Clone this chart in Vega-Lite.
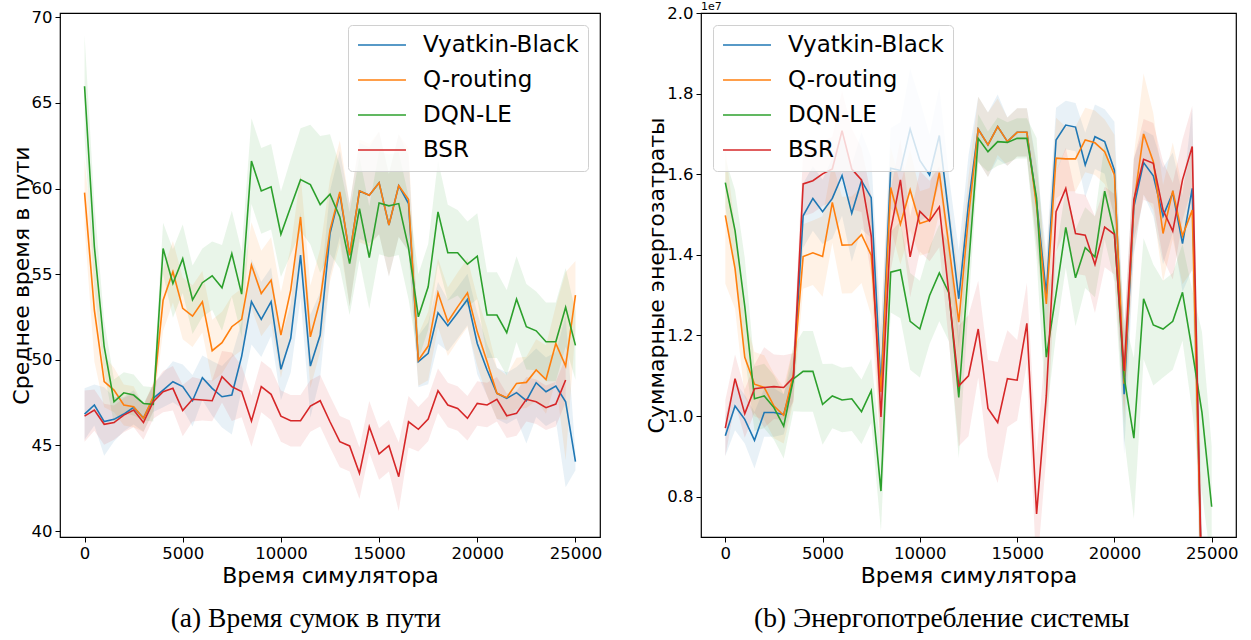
{
  "$schema": "https://vega.github.io/schema/vega-lite/v6.json",
  "padding": {"left": 9, "top": 0, "right": 5, "bottom": 0},
  "background": "white",
  "config": {
    "font": "DejaVu Sans",
    "view": {"stroke": "black", "strokeWidth": 1.2},
    "axis": {
      "labelFont": "DejaVu Sans", "labelFontSize": 16.5, "labelColor": "black",
      "titleFont": "DejaVu Sans", "titleFontSize": 22, "titleFontWeight": "normal", "titleColor": "black",
      "tickColor": "black", "tickSize": 5, "tickWidth": 1, "domain": false, "grid": false, "labelPadding": 3
    },
    "axisY": {"titlePadding": -2},
    "axisX": {"titlePadding": 4},
    "legend": {
      "labelFont": "DejaVu Sans", "labelFontSize": 23, "labelColor": "black",
      "symbolType": "stroke", "symbolStrokeWidth": 1.6, "symbolSize": 2300, "symbolOpacity": 1,
      "fillColor": "rgba(255,255,255,0.8)", "strokeColor": "#d0d0d0", "cornerRadius": 4,
      "padding": 9, "rowPadding": 12, "clipHeight": 22, "labelOffset": 16, "offset": 12
    },
    "title": {"font": "Liberation Serif", "fontSize": 27.5, "fontWeight": "normal", "color": "black"}
  },
  "datasets": {
    "time": [
      {"t":0,"method":"Vyatkin-Black","v":46.83,"e":1.5},{"t":0,"method":"Q-routing","v":59.76,"e":2.0},{"t":0,"method":"DQN-LE","v":65.97,"e":3.0},{"t":0,"method":"BSR","v":46.71,"e":1.5},
      {"t":500,"method":"Vyatkin-Black","v":47.36,"e":1.2},{"t":500,"method":"Q-routing","v":52.9,"e":3.0},{"t":500,"method":"DQN-LE","v":56.6,"e":2.5},{"t":500,"method":"BSR","v":47.06,"e":1.2},
      {"t":1000,"method":"Vyatkin-Black","v":46.39,"e":2.0},{"t":1000,"method":"Q-routing","v":48.72,"e":1.5},{"t":1000,"method":"DQN-LE","v":50.76,"e":1.5},{"t":1000,"method":"BSR","v":46.23,"e":1.2},
      {"t":1500,"method":"Vyatkin-Black","v":46.52,"e":1.3},{"t":1500,"method":"Q-routing","v":48.23,"e":1.3},{"t":1500,"method":"DQN-LE","v":47.55,"e":1.3},{"t":1500,"method":"BSR","v":46.33,"e":1.0},
      {"t":2000,"method":"Vyatkin-Black","v":46.83,"e":1.0},{"t":2000,"method":"Q-routing","v":47.36,"e":1.2},{"t":2000,"method":"DQN-LE","v":48.07,"e":1.2},{"t":2000,"method":"BSR","v":46.77,"e":1.0},
      {"t":2500,"method":"Vyatkin-Black","v":47.22,"e":1.0},{"t":2500,"method":"Q-routing","v":47.26,"e":1.2},{"t":2500,"method":"DQN-LE","v":47.94,"e":1.2},{"t":2500,"method":"BSR","v":47.06,"e":1.0},
      {"t":3000,"method":"Vyatkin-Black","v":46.6,"e":0.8},{"t":3000,"method":"Q-routing","v":46.58,"e":0.8},{"t":3000,"method":"DQN-LE","v":47.45,"e":1.0},{"t":3000,"method":"BSR","v":46.33,"e":1.0},
      {"t":3500,"method":"Vyatkin-Black","v":47.75,"e":0.8},{"t":3500,"method":"Q-routing","v":47.84,"e":0.8},{"t":3500,"method":"DQN-LE","v":47.4,"e":1.0},{"t":3500,"method":"BSR","v":47.55,"e":1.0},
      {"t":4000,"method":"Vyatkin-Black","v":48.23,"e":1.0},{"t":4000,"method":"Q-routing","v":53.48,"e":1.8},{"t":4000,"method":"DQN-LE","v":56.5,"e":1.5},{"t":4000,"method":"BSR","v":48.14,"e":1.2},
      {"t":4500,"method":"Vyatkin-Black","v":48.72,"e":1.2},{"t":4500,"method":"Q-routing","v":55.14,"e":1.8},{"t":4500,"method":"DQN-LE","v":54.45,"e":2.0},{"t":4500,"method":"BSR","v":48.33,"e":1.3},
      {"t":5000,"method":"Vyatkin-Black","v":48.43,"e":1.3},{"t":5000,"method":"Q-routing","v":53.0,"e":1.8},{"t":5000,"method":"DQN-LE","v":55.9,"e":2.0},{"t":5000,"method":"BSR","v":47.03,"e":1.5},
      {"t":5500,"method":"Vyatkin-Black","v":47.61,"e":1.5},{"t":5500,"method":"Q-routing","v":52.55,"e":1.8},{"t":5500,"method":"DQN-LE","v":53.5,"e":2.0},{"t":5500,"method":"BSR","v":47.69,"e":1.3},
      {"t":6000,"method":"Vyatkin-Black","v":48.95,"e":1.3},{"t":6000,"method":"Q-routing","v":53.39,"e":1.8},{"t":6000,"method":"DQN-LE","v":54.5,"e":2.0},{"t":6000,"method":"BSR","v":47.65,"e":1.2},
      {"t":6500,"method":"Vyatkin-Black","v":48.33,"e":1.6},{"t":6500,"method":"Q-routing","v":50.53,"e":1.8},{"t":6500,"method":"DQN-LE","v":54.9,"e":2.0},{"t":6500,"method":"BSR","v":47.61,"e":1.2},
      {"t":7000,"method":"Vyatkin-Black","v":47.84,"e":1.8},{"t":7000,"method":"Q-routing","v":51.0,"e":1.8},{"t":7000,"method":"DQN-LE","v":54.2,"e":2.5},{"t":7000,"method":"BSR","v":49.01,"e":1.5},
      {"t":7500,"method":"Vyatkin-Black","v":47.94,"e":2.3},{"t":7500,"method":"Q-routing","v":51.93,"e":1.8},{"t":7500,"method":"DQN-LE","v":56.2,"e":2.5},{"t":7500,"method":"BSR","v":48.43,"e":2.0},
      {"t":8000,"method":"Vyatkin-Black","v":50.2,"e":2.0},{"t":8000,"method":"Q-routing","v":52.36,"e":1.8},{"t":8000,"method":"DQN-LE","v":53.83,"e":2.5},{"t":8000,"method":"BSR","v":48.14,"e":1.5},
      {"t":8500,"method":"Vyatkin-Black","v":53.39,"e":2.5},{"t":8500,"method":"Q-routing","v":55.53,"e":2.5},{"t":8500,"method":"DQN-LE","v":61.6,"e":2.5},{"t":8500,"method":"BSR","v":46.42,"e":1.5},
      {"t":9000,"method":"Vyatkin-Black","v":52.36,"e":2.2},{"t":9000,"method":"Q-routing","v":53.87,"e":2.5},{"t":9000,"method":"DQN-LE","v":59.86,"e":2.5},{"t":9000,"method":"BSR","v":48.43,"e":1.5},
      {"t":9500,"method":"Vyatkin-Black","v":53.39,"e":2.0},{"t":9500,"method":"Q-routing","v":54.65,"e":2.5},{"t":9500,"method":"DQN-LE","v":60.1,"e":2.5},{"t":9500,"method":"BSR","v":47.98,"e":1.5},
      {"t":10000,"method":"Vyatkin-Black","v":49.44,"e":1.8},{"t":10000,"method":"Q-routing","v":51.44,"e":2.5},{"t":10000,"method":"DQN-LE","v":57.33,"e":2.5},{"t":10000,"method":"BSR","v":46.71,"e":1.5},
      {"t":10500,"method":"Vyatkin-Black","v":51.25,"e":2.0},{"t":10500,"method":"Q-routing","v":54.07,"e":2.5},{"t":10500,"method":"DQN-LE","v":58.93,"e":2.8},{"t":10500,"method":"BSR","v":46.44,"e":1.5},
      {"t":11000,"method":"Vyatkin-Black","v":56.11,"e":2.5},{"t":11000,"method":"Q-routing","v":58.34,"e":2.5},{"t":11000,"method":"DQN-LE","v":60.52,"e":3.0},{"t":11000,"method":"BSR","v":46.44,"e":1.5},
      {"t":11500,"method":"Vyatkin-Black","v":49.63,"e":3.0},{"t":11500,"method":"Q-routing","v":51.34,"e":3.0},{"t":11500,"method":"DQN-LE","v":60.23,"e":3.5},{"t":11500,"method":"BSR","v":47.3,"e":1.5},
      {"t":12000,"method":"Vyatkin-Black","v":51.44,"e":2.5},{"t":12000,"method":"Q-routing","v":53.48,"e":3.0},{"t":12000,"method":"DQN-LE","v":59.06,"e":4.0},{"t":12000,"method":"BSR","v":47.61,"e":1.5},
      {"t":12500,"method":"Vyatkin-Black","v":57.37,"e":2.5},{"t":12500,"method":"Q-routing","v":57.57,"e":3.0},{"t":12500,"method":"DQN-LE","v":59.67,"e":3.5},{"t":12500,"method":"BSR","v":46.38,"e":1.5},
      {"t":13000,"method":"Vyatkin-Black","v":59.7,"e":2.5},{"t":13000,"method":"Q-routing","v":59.8,"e":3.0},{"t":13000,"method":"DQN-LE","v":58.34,"e":3.0},{"t":13000,"method":"BSR","v":45.22,"e":1.5},
      {"t":13500,"method":"Vyatkin-Black","v":56.11,"e":3.0},{"t":13500,"method":"Q-routing","v":56.11,"e":3.0},{"t":13500,"method":"DQN-LE","v":55.62,"e":3.0},{"t":13500,"method":"BSR","v":44.97,"e":1.5},
      {"t":14000,"method":"Vyatkin-Black","v":59.86,"e":2.8},{"t":14000,"method":"Q-routing","v":59.86,"e":3.0},{"t":14000,"method":"DQN-LE","v":58.83,"e":3.0},{"t":14000,"method":"BSR","v":43.37,"e":1.5},
      {"t":14500,"method":"Vyatkin-Black","v":59.61,"e":2.8},{"t":14500,"method":"Q-routing","v":59.61,"e":3.0},{"t":14500,"method":"DQN-LE","v":55.97,"e":3.0},{"t":14500,"method":"BSR","v":46.09,"e":1.5},
      {"t":15000,"method":"Vyatkin-Black","v":60.33,"e":3.0},{"t":15000,"method":"Q-routing","v":60.33,"e":3.0},{"t":15000,"method":"DQN-LE","v":59.16,"e":3.0},{"t":15000,"method":"BSR","v":44.5,"e":1.5},
      {"t":15500,"method":"Vyatkin-Black","v":57.86,"e":3.0},{"t":15500,"method":"Q-routing","v":57.86,"e":3.0},{"t":15500,"method":"DQN-LE","v":58.99,"e":3.0},{"t":15500,"method":"BSR","v":44.98,"e":1.5},
      {"t":16000,"method":"Vyatkin-Black","v":60.17,"e":3.0},{"t":16000,"method":"Q-routing","v":60.17,"e":3.0},{"t":16000,"method":"DQN-LE","v":59.12,"e":3.0},{"t":16000,"method":"BSR","v":43.17,"e":2.0},
      {"t":16500,"method":"Vyatkin-Black","v":59.12,"e":2.8},{"t":16500,"method":"Q-routing","v":59.36,"e":3.0},{"t":16500,"method":"DQN-LE","v":56.53,"e":3.0},{"t":16500,"method":"BSR","v":46.38,"e":1.5},
      {"t":17000,"method":"Vyatkin-Black","v":49.89,"e":1.5},{"t":17000,"method":"Q-routing","v":49.98,"e":1.5},{"t":17000,"method":"DQN-LE","v":52.51,"e":2.5},{"t":17000,"method":"BSR","v":45.94,"e":1.3},
      {"t":17500,"method":"Vyatkin-Black","v":50.37,"e":1.8},{"t":17500,"method":"Q-routing","v":50.8,"e":2.0},{"t":17500,"method":"DQN-LE","v":54.26,"e":2.5},{"t":17500,"method":"BSR","v":46.54,"e":1.3},
      {"t":18000,"method":"Vyatkin-Black","v":52.74,"e":1.8},{"t":18000,"method":"Q-routing","v":53.91,"e":2.0},{"t":18000,"method":"DQN-LE","v":58.64,"e":3.0},{"t":18000,"method":"BSR","v":48.19,"e":1.3},
      {"t":18500,"method":"Vyatkin-Black","v":51.99,"e":1.5},{"t":18500,"method":"Q-routing","v":52.22,"e":2.0},{"t":18500,"method":"DQN-LE","v":56.25,"e":2.8},{"t":18500,"method":"BSR","v":47.36,"e":1.3},
      {"t":19000,"method":"Vyatkin-Black","v":52.74,"e":1.5},{"t":19000,"method":"Q-routing","v":53.09,"e":2.0},{"t":19000,"method":"DQN-LE","v":56.25,"e":2.5},{"t":19000,"method":"BSR","v":47.16,"e":1.3},
      {"t":19500,"method":"Vyatkin-Black","v":53.52,"e":1.5},{"t":19500,"method":"Q-routing","v":53.91,"e":2.0},{"t":19500,"method":"DQN-LE","v":55.58,"e":2.5},{"t":19500,"method":"BSR","v":46.58,"e":1.3},
      {"t":20000,"method":"Vyatkin-Black","v":50.95,"e":1.8},{"t":20000,"method":"Q-routing","v":51.63,"e":2.0},{"t":20000,"method":"DQN-LE","v":56.05,"e":2.5},{"t":20000,"method":"BSR","v":47.45,"e":1.3},
      {"t":20500,"method":"Vyatkin-Black","v":49.4,"e":1.5},{"t":20500,"method":"Q-routing","v":49.89,"e":2.0},{"t":20500,"method":"DQN-LE","v":52.61,"e":2.5},{"t":20500,"method":"BSR","v":47.36,"e":1.3},
      {"t":21000,"method":"Vyatkin-Black","v":48.04,"e":1.5},{"t":21000,"method":"Q-routing","v":48.04,"e":1.5},{"t":21000,"method":"DQN-LE","v":52.61,"e":2.5},{"t":21000,"method":"BSR","v":47.69,"e":1.3},
      {"t":21500,"method":"Vyatkin-Black","v":47.75,"e":1.5},{"t":21500,"method":"Q-routing","v":47.79,"e":1.3},{"t":21500,"method":"DQN-LE","v":51.58,"e":2.5},{"t":21500,"method":"BSR","v":46.73,"e":1.3},
      {"t":22000,"method":"Vyatkin-Black","v":48.08,"e":1.5},{"t":22000,"method":"Q-routing","v":48.62,"e":1.5},{"t":22000,"method":"DQN-LE","v":53.54,"e":2.5},{"t":22000,"method":"BSR","v":46.87,"e":1.3},
      {"t":22500,"method":"Vyatkin-Black","v":47.61,"e":2.5},{"t":22500,"method":"Q-routing","v":48.68,"e":1.5},{"t":22500,"method":"DQN-LE","v":51.93,"e":2.5},{"t":22500,"method":"BSR","v":47.69,"e":1.3},
      {"t":23000,"method":"Vyatkin-Black","v":48.66,"e":2.0},{"t":23000,"method":"Q-routing","v":49.4,"e":1.8},{"t":23000,"method":"DQN-LE","v":51.69,"e":2.3},{"t":23000,"method":"BSR","v":47.55,"e":1.3},
      {"t":23500,"method":"Vyatkin-Black","v":48.13,"e":2.0},{"t":23500,"method":"Q-routing","v":48.85,"e":2.0},{"t":23500,"method":"DQN-LE","v":51.05,"e":2.3},{"t":23500,"method":"BSR","v":47.2,"e":1.3},
      {"t":24000,"method":"Vyatkin-Black","v":48.46,"e":2.0},{"t":24000,"method":"Q-routing","v":50.95,"e":2.2},{"t":24000,"method":"DQN-LE","v":51.05,"e":2.3},{"t":24000,"method":"BSR","v":47.41,"e":1.3},
      {"t":24500,"method":"Vyatkin-Black","v":47.55,"e":5.0},{"t":24500,"method":"Q-routing","v":49.63,"e":5.5},{"t":24500,"method":"DQN-LE","v":53.06,"e":2.3},{"t":24500,"method":"BSR","v":48.82,"e":1.3},
      {"t":25000,"method":"Vyatkin-Black","v":44.05,"e":0.5},{"t":25000,"method":"Q-routing","v":53.77,"e":2.0},{"t":25000,"method":"DQN-LE","v":50.84,"e":2.0}
    ],
    "energy": [
      {"t":0,"method":"Vyatkin-Black","v":0.951,"e":0.05},{"t":0,"method":"Q-routing","v":1.498,"e":0.17},{"t":0,"method":"DQN-LE","v":1.579,"e":0.06},{"t":0,"method":"BSR","v":0.970,"e":0.07},
      {"t":500,"method":"Vyatkin-Black","v":1.025,"e":0.06},{"t":500,"method":"Q-routing","v":1.366,"e":0.10},{"t":500,"method":"DQN-LE","v":1.46,"e":0.10},{"t":500,"method":"BSR","v":1.093,"e":0.06},
      {"t":1000,"method":"Vyatkin-Black","v":0.992,"e":0.06},{"t":1000,"method":"Q-routing","v":1.146,"e":0.10},{"t":1000,"method":"DQN-LE","v":1.272,"e":0.12},{"t":1000,"method":"BSR","v":1.006,"e":0.06},
      {"t":1500,"method":"Vyatkin-Black","v":0.940,"e":0.07},{"t":1500,"method":"Q-routing","v":1.079,"e":0.08},{"t":1500,"method":"DQN-LE","v":1.043,"e":0.08},{"t":1500,"method":"BSR","v":1.068,"e":0.06},
      {"t":2000,"method":"Vyatkin-Black","v":1.009,"e":0.06},{"t":2000,"method":"Q-routing","v":1.071,"e":0.08},{"t":2000,"method":"DQN-LE","v":1.05,"e":0.08},{"t":2000,"method":"BSR","v":1.071,"e":0.10},
      {"t":2500,"method":"Vyatkin-Black","v":1.009,"e":0.06},{"t":2500,"method":"Q-routing","v":1.025,"e":0.08},{"t":2500,"method":"DQN-LE","v":1.021,"e":0.08},{"t":2500,"method":"BSR","v":1.073,"e":0.08},
      {"t":3000,"method":"Vyatkin-Black","v":1.004,"e":0.05},{"t":3000,"method":"Q-routing","v":1.002,"e":0.07},{"t":3000,"method":"DQN-LE","v":0.975,"e":0.08},{"t":3000,"method":"BSR","v":1.071,"e":0.08},
      {"t":3500,"method":"Vyatkin-Black","v":1.092,"e":0.05},{"t":3500,"method":"Q-routing","v":1.104,"e":0.07},{"t":3500,"method":"DQN-LE","v":1.092,"e":0.08},{"t":3500,"method":"BSR","v":1.096,"e":0.06},
      {"t":4000,"method":"Vyatkin-Black","v":1.497,"e":0.08},{"t":4000,"method":"Q-routing","v":1.396,"e":0.08},{"t":4000,"method":"DQN-LE","v":1.111,"e":0.10},{"t":4000,"method":"BSR","v":1.576,"e":0.08},
      {"t":4500,"method":"Vyatkin-Black","v":1.540,"e":0.08},{"t":4500,"method":"Q-routing","v":1.405,"e":0.08},{"t":4500,"method":"DQN-LE","v":1.111,"e":0.10},{"t":4500,"method":"BSR","v":1.584,"e":0.08},
      {"t":5000,"method":"Vyatkin-Black","v":1.507,"e":0.08},{"t":5000,"method":"Q-routing","v":1.396,"e":0.10},{"t":5000,"method":"DQN-LE","v":1.029,"e":0.10},{"t":5000,"method":"BSR","v":1.601,"e":0.08},
      {"t":5500,"method":"Vyatkin-Black","v":1.540,"e":0.10},{"t":5500,"method":"Q-routing","v":1.530,"e":0.10},{"t":5500,"method":"DQN-LE","v":1.05,"e":0.08},{"t":5500,"method":"BSR","v":1.613,"e":0.08},
      {"t":6000,"method":"Vyatkin-Black","v":1.597,"e":0.10},{"t":6000,"method":"Q-routing","v":1.424,"e":0.12},{"t":6000,"method":"DQN-LE","v":1.04,"e":0.08},{"t":6000,"method":"BSR","v":1.708,"e":0.10},
      {"t":6500,"method":"Vyatkin-Black","v":1.503,"e":0.12},{"t":6500,"method":"Q-routing","v":1.425,"e":0.12},{"t":6500,"method":"DQN-LE","v":1.043,"e":0.08},{"t":6500,"method":"BSR","v":1.613,"e":0.10},
      {"t":7000,"method":"Vyatkin-Black","v":1.584,"e":0.12},{"t":7000,"method":"Q-routing","v":1.450,"e":0.12},{"t":7000,"method":"DQN-LE","v":1.011,"e":0.08},{"t":7000,"method":"BSR","v":1.586,"e":0.08},
      {"t":7500,"method":"Vyatkin-Black","v":1.542,"e":0.10},{"t":7500,"method":"Q-routing","v":1.399,"e":0.15},{"t":7500,"method":"DQN-LE","v":1.063,"e":0.08},{"t":7500,"method":"BSR","v":1.447,"e":0.10},
      {"t":8000,"method":"Vyatkin-Black","v":1.071,"e":0.15},{"t":8000,"method":"Q-routing","v":1.06,"e":0.15},{"t":8000,"method":"DQN-LE","v":0.814,"e":0.10},{"t":8000,"method":"BSR","v":0.998,"e":0.10},
      {"t":8500,"method":"Vyatkin-Black","v":1.615,"e":0.10},{"t":8500,"method":"Q-routing","v":1.567,"e":0.10},{"t":8500,"method":"DQN-LE","v":1.357,"e":0.10},{"t":8500,"method":"BSR","v":1.461,"e":0.10},
      {"t":9000,"method":"Vyatkin-Black","v":1.609,"e":0.12},{"t":9000,"method":"Q-routing","v":1.476,"e":0.10},{"t":9000,"method":"DQN-LE","v":1.363,"e":0.12},{"t":9000,"method":"BSR","v":1.586,"e":0.10},
      {"t":9500,"method":"Vyatkin-Black","v":1.712,"e":0.15},{"t":9500,"method":"Q-routing","v":1.561,"e":0.10},{"t":9500,"method":"DQN-LE","v":1.235,"e":0.12},{"t":9500,"method":"BSR","v":1.395,"e":0.10},
      {"t":10000,"method":"Vyatkin-Black","v":1.634,"e":0.15},{"t":10000,"method":"Q-routing","v":1.478,"e":0.08},{"t":10000,"method":"DQN-LE","v":1.216,"e":0.12},{"t":10000,"method":"BSR","v":1.508,"e":0.10},
      {"t":10500,"method":"Vyatkin-Black","v":1.598,"e":0.10},{"t":10500,"method":"Q-routing","v":1.486,"e":0.08},{"t":10500,"method":"DQN-LE","v":1.299,"e":0.12},{"t":10500,"method":"BSR","v":1.484,"e":0.10},
      {"t":11000,"method":"Vyatkin-Black","v":1.696,"e":0.12},{"t":11000,"method":"Q-routing","v":1.604,"e":0.10},{"t":11000,"method":"DQN-LE","v":1.355,"e":0.12},{"t":11000,"method":"BSR","v":1.519,"e":0.10},
      {"t":11500,"method":"Vyatkin-Black","v":1.494,"e":0.10},{"t":11500,"method":"Q-routing","v":1.42,"e":0.10},{"t":11500,"method":"DQN-LE","v":1.305,"e":0.12},{"t":11500,"method":"BSR","v":1.30,"e":0.12},
      {"t":12000,"method":"Vyatkin-Black","v":1.291,"e":0.12},{"t":12000,"method":"Q-routing","v":1.233,"e":0.12},{"t":12000,"method":"DQN-LE","v":1.046,"e":0.15},{"t":12000,"method":"BSR","v":1.075,"e":0.15},
      {"t":12500,"method":"Vyatkin-Black","v":1.527,"e":0.12},{"t":12500,"method":"Q-routing","v":1.494,"e":0.10},{"t":12500,"method":"DQN-LE","v":1.370,"e":0.10},{"t":12500,"method":"BSR","v":1.100,"e":0.15},
      {"t":13000,"method":"Vyatkin-Black","v":1.712,"e":0.08},{"t":13000,"method":"Q-routing","v":1.712,"e":0.08},{"t":13000,"method":"DQN-LE","v":1.689,"e":0.06},{"t":13000,"method":"BSR","v":1.216,"e":0.12},
      {"t":13500,"method":"Vyatkin-Black","v":1.673,"e":0.08},{"t":13500,"method":"Q-routing","v":1.673,"e":0.08},{"t":13500,"method":"DQN-LE","v":1.656,"e":0.05},{"t":13500,"method":"BSR","v":1.019,"e":0.12},
      {"t":14000,"method":"Vyatkin-Black","v":1.718,"e":0.08},{"t":14000,"method":"Q-routing","v":1.718,"e":0.07},{"t":14000,"method":"DQN-LE","v":1.681,"e":0.06},{"t":14000,"method":"BSR","v":0.984,"e":0.15},
      {"t":14500,"method":"Vyatkin-Black","v":1.681,"e":0.06},{"t":14500,"method":"Q-routing","v":1.681,"e":0.06},{"t":14500,"method":"DQN-LE","v":1.679,"e":0.05},{"t":14500,"method":"BSR","v":1.093,"e":0.12},
      {"t":15000,"method":"Vyatkin-Black","v":1.704,"e":0.06},{"t":15000,"method":"Q-routing","v":1.704,"e":0.06},{"t":15000,"method":"DQN-LE","v":1.689,"e":0.05},{"t":15000,"method":"BSR","v":1.089,"e":0.10},
      {"t":15500,"method":"Vyatkin-Black","v":1.704,"e":0.06},{"t":15500,"method":"Q-routing","v":1.704,"e":0.06},{"t":15500,"method":"DQN-LE","v":1.689,"e":0.05},{"t":15500,"method":"BSR","v":1.230,"e":0.10},
      {"t":16000,"method":"Vyatkin-Black","v":1.53,"e":0.10},{"t":16000,"method":"Q-routing","v":1.52,"e":0.10},{"t":16000,"method":"DQN-LE","v":1.540,"e":0.15},{"t":16000,"method":"BSR","v":0.757,"e":0.15},
      {"t":16500,"method":"Vyatkin-Black","v":1.303,"e":0.10},{"t":16500,"method":"Q-routing","v":1.278,"e":0.10},{"t":16500,"method":"DQN-LE","v":1.146,"e":0.15},{"t":16500,"method":"BSR","v":1.05,"e":0.15},
      {"t":17000,"method":"Vyatkin-Black","v":1.685,"e":0.08},{"t":17000,"method":"Q-routing","v":1.640,"e":0.10},{"t":17000,"method":"DQN-LE","v":1.303,"e":0.10},{"t":17000,"method":"BSR","v":1.507,"e":0.10},
      {"t":17500,"method":"Vyatkin-Black","v":1.722,"e":0.06},{"t":17500,"method":"Q-routing","v":1.638,"e":0.08},{"t":17500,"method":"DQN-LE","v":1.468,"e":0.10},{"t":17500,"method":"BSR","v":1.565,"e":0.10},
      {"t":18000,"method":"Vyatkin-Black","v":1.717,"e":0.06},{"t":18000,"method":"Q-routing","v":1.638,"e":0.08},{"t":18000,"method":"DQN-LE","v":1.343,"e":0.12},{"t":18000,"method":"BSR","v":1.453,"e":0.10},
      {"t":18500,"method":"Vyatkin-Black","v":1.623,"e":0.08},{"t":18500,"method":"Q-routing","v":1.685,"e":0.08},{"t":18500,"method":"DQN-LE","v":1.418,"e":0.10},{"t":18500,"method":"BSR","v":1.449,"e":0.10},
      {"t":19000,"method":"Vyatkin-Black","v":1.693,"e":0.08},{"t":19000,"method":"Q-routing","v":1.678,"e":0.08},{"t":19000,"method":"DQN-LE","v":1.395,"e":0.10},{"t":19000,"method":"BSR","v":1.376,"e":0.12},
      {"t":19500,"method":"Vyatkin-Black","v":1.681,"e":0.08},{"t":19500,"method":"Q-routing","v":1.656,"e":0.08},{"t":19500,"method":"DQN-LE","v":1.558,"e":0.12},{"t":19500,"method":"BSR","v":1.469,"e":0.10},
      {"t":20000,"method":"Vyatkin-Black","v":1.610,"e":0.12},{"t":20000,"method":"Q-routing","v":1.598,"e":0.10},{"t":20000,"method":"DQN-LE","v":1.453,"e":0.12},{"t":20000,"method":"BSR","v":1.451,"e":0.10},
      {"t":20500,"method":"Vyatkin-Black","v":1.054,"e":0.15},{"t":20500,"method":"Q-routing","v":1.08,"e":0.10},{"t":20500,"method":"DQN-LE","v":1.096,"e":0.15},{"t":20500,"method":"BSR","v":1.112,"e":0.10},
      {"t":21000,"method":"Vyatkin-Black","v":1.519,"e":0.12},{"t":21000,"method":"Q-routing","v":1.527,"e":0.12},{"t":21000,"method":"DQN-LE","v":0.945,"e":0.20},{"t":21000,"method":"BSR","v":1.537,"e":0.10},
      {"t":21500,"method":"Vyatkin-Black","v":1.629,"e":0.08},{"t":21500,"method":"Q-routing","v":1.700,"e":0.15},{"t":21500,"method":"DQN-LE","v":1.291,"e":0.15},{"t":21500,"method":"BSR","v":1.637,"e":0.10},
      {"t":22000,"method":"Vyatkin-Black","v":1.596,"e":0.10},{"t":22000,"method":"Q-routing","v":1.631,"e":0.12},{"t":22000,"method":"DQN-LE","v":1.226,"e":0.15},{"t":22000,"method":"BSR","v":1.627,"e":0.10},
      {"t":22500,"method":"Vyatkin-Black","v":1.496,"e":0.12},{"t":22500,"method":"Q-routing","v":1.453,"e":0.12},{"t":22500,"method":"DQN-LE","v":1.216,"e":0.12},{"t":22500,"method":"BSR","v":1.511,"e":0.12},
      {"t":23000,"method":"Vyatkin-Black","v":1.554,"e":0.10},{"t":23000,"method":"Q-routing","v":1.559,"e":0.12},{"t":23000,"method":"DQN-LE","v":1.235,"e":0.12},{"t":23000,"method":"BSR","v":1.459,"e":0.12},
      {"t":23500,"method":"Vyatkin-Black","v":1.428,"e":0.12},{"t":23500,"method":"Q-routing","v":1.447,"e":0.12},{"t":23500,"method":"DQN-LE","v":1.307,"e":0.12},{"t":23500,"method":"BSR","v":1.586,"e":0.10},
      {"t":24000,"method":"Vyatkin-Black","v":1.565,"e":0.20},{"t":24000,"method":"Q-routing","v":1.511,"e":0.15},{"t":24000,"method":"DQN-LE","v":1.162,"e":0.15},{"t":24000,"method":"BSR","v":1.669,"e":0.10},
      {"t":24500,"method":"Vyatkin-Black","v":0.55,"e":0.20},{"t":24500,"method":"Q-routing","v":0.55,"e":0.15},{"t":24500,"method":"DQN-LE","v":1.009,"e":0.20},{"t":24500,"method":"BSR","v":0.55,"e":0.10},
      {"t":25000,"method":"DQN-LE","v":0.775,"e":0.15}
    ]
  },
  "spacing": 42,
  "resolve": {
    "scale": {"x": "independent", "y": "independent", "color": "independent"},
    "legend": {"color": "independent"}
  },
  "hconcat": [
    {
      "width": 540,
      "height": 524,
      "data": {"name": "time"},
      "title": {"text": "(a) Время сумок в пути", "orient": "bottom", "anchor": "middle", "frame": "bounds", "offset": 18},
      "layer": [
        {
          "mark": {"type": "errorband", "clip": true, "band": {"opacity": 0.1}},
          "encoding": {
            "x": {
              "field": "t", "type": "quantitative",
              "scale": {"domain": [-1250, 26250], "nice": false, "zero": false},
              "axis": {"values": [0, 5000, 10000, 15000, 20000, 25000], "format": "d", "title": "Время симулятора"}
            },
            "y": {
              "field": "v", "type": "quantitative",
              "scale": {"domain": [39.65, 70.25], "nice": false, "zero": false},
              "axis": {"values": [40, 45, 50, 55, 60, 65, 70], "title": "Среднее время в пути"}
            },
            "yError": {"field": "e"},
            "color": {
              "field": "method", "type": "nominal",
              "scale": {"domain": ["Vyatkin-Black", "Q-routing", "DQN-LE", "BSR"], "range": ["#1f77b4", "#ff7f0e", "#2ca02c", "#d62728"]},
              "legend": {"orient": "top-right", "title": null}
            }
          }
        },
        {
          "mark": {"type": "line", "clip": true, "strokeWidth": 1.6},
          "encoding": {
            "x": {"field": "t", "type": "quantitative"},
            "y": {"field": "v", "type": "quantitative"},
            "color": {
              "field": "method", "type": "nominal",
              "legend": {"orient": "top-right", "title": null}
            }
          }
        }
      ]
    },
    {
      "width": 535,
      "height": 524,
      "data": {"name": "energy"},
      "title": {"text": "(b) Энергопотребление системы", "orient": "bottom", "anchor": "middle", "frame": "bounds", "offset": 18},
      "layer": [
        {
          "mark": {"type": "errorband", "clip": true, "band": {"opacity": 0.1}},
          "encoding": {
            "x": {
              "field": "t", "type": "quantitative",
              "scale": {"domain": [-1250, 26250], "nice": false, "zero": false},
              "axis": {"values": [0, 5000, 10000, 15000, 20000, 25000], "format": "d", "title": "Время симулятора"}
            },
            "y": {
              "field": "v", "type": "quantitative",
              "scale": {"domain": [0.7, 2.0], "nice": false, "zero": false},
              "axis": {"values": [0.8, 1.0, 1.2, 1.4, 1.6, 1.8, 2.0], "format": ".1f", "title": "Суммарные энергозатраты"}
            },
            "yError": {"field": "e"},
            "color": {
              "field": "method", "type": "nominal",
              "scale": {"domain": ["Vyatkin-Black", "Q-routing", "DQN-LE", "BSR"], "range": ["#1f77b4", "#ff7f0e", "#2ca02c", "#d62728"]},
              "legend": {"orient": "top-left", "title": null}
            }
          }
        },
        {
          "mark": {"type": "line", "clip": true, "strokeWidth": 1.6},
          "encoding": {
            "x": {"field": "t", "type": "quantitative"},
            "y": {"field": "v", "type": "quantitative"},
            "color": {
              "field": "method", "type": "nominal",
              "legend": {"orient": "top-left", "title": null}
            }
          }
        },
        {
          "data": {"values": [{"x": -1250, "y": 2.0}]},
          "mark": {"type": "text", "text": "1e7", "align": "left", "baseline": "bottom", "dy": -1, "fontSize": 11, "font": "DejaVu Sans", "fill": "black"},
          "encoding": {
            "x": {"field": "x", "type": "quantitative"},
            "y": {"field": "y", "type": "quantitative"}
          }
        }
      ]
    }
  ]
}
